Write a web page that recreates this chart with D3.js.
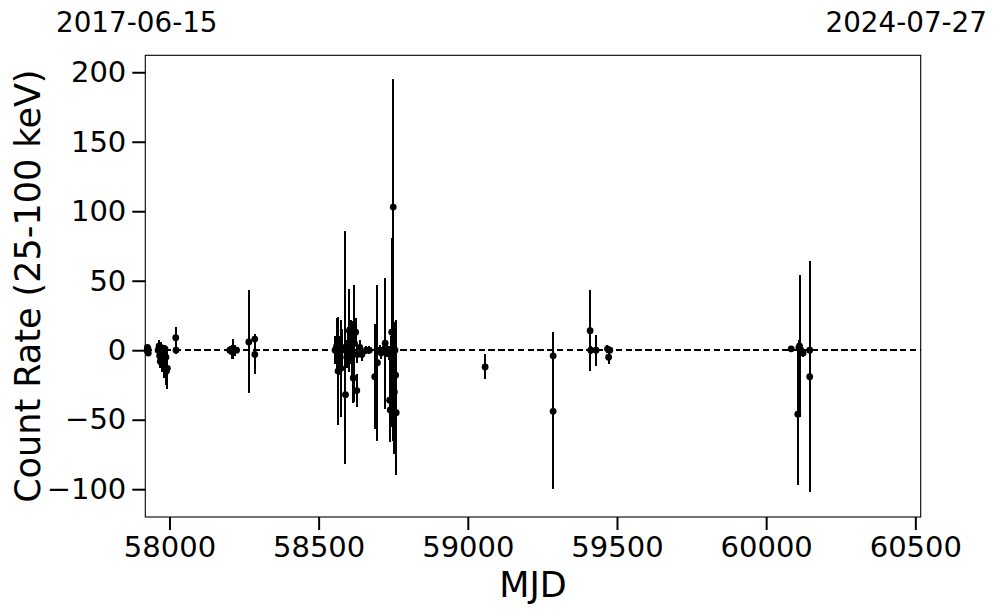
<!DOCTYPE html>
<html><head><meta charset="utf-8">
<script src="https://cdn.jsdelivr.net/npm/d3@7"></script>
<style>body{margin:0;background:#fff}svg{display:block;font-family:"DejaVu Sans",sans-serif}</style>
</head><body>
<svg id="c" width="997" height="613"></svg>
<script>
const mjd  = [57925,57926,57927,57928,57929,57962,57965,57967,57969,57971,57973,57975,57977,57979,57981,57983,57985,57988,57990,57993,58021,58022,58202,58208,58213,58218,58225,58266,58286,58286,
 58555,58560,58565,58568,58570,58575,58578,58588,58590,58594,58598,58603,58606,58610,58612,58616,58620,58624,58628,58630,58638,58645,58660,58670,58688,58697,58705,58710,58716,58723,58728,58735,58738,58740,58742,58745,58748,58750,58752,58754,58756,58758,58760,
 59058,59286,59286,59410,59412,59430,59468,59472,59476,60084,60106,60110,60112,60116,60124,60146,60146];
const rate = [0,2,-1,1,-2,0,3,-4,-8,2,-6,-10,-3,0,-7,-12,1,-5,-15,-13,9,0,0,-1,1,0,0,6,8,-3,
 0,3,-15,-8,2,-13,0,2,-32,-5,5,14,0,10,0,-20,5,13,-29,-3,2,-3,0,0,-19,-9,0,-2,0,5,0,-2,-36,-43,0,13,-20,103,-45,-30,0,-18,-45,
 -12,-4,-44,14,0,0,1,-5,0,1,-46,2,3,0,-2,0,-19];
const err  = [3,2,2,3,2,4,4,5,5,4,6,6,5,4,6,8,3,6,10,15,8,3,3,5,7,4,2,37,4,14,
 10,20,39,10,8,35,15,84,42,8,12,30,10,12,21,18,42,10,12,6,5,5,3,3,38,56,4,4,3,47,5,5,30,23,10,68,45,92,30,40,20,40,45,
 9,17,56,29,3,11,3,5,2,2,51,5,51,4,3,3,83];
const xTicks = [58000,58500,59000,59500,60000,60500];
const yTicks = [-100,-50,0,50,100,150,200];
const dateLeft = "2017-06-15", dateRight = "2024-07-27";
const xLabel = "MJD", yLabel = "Count Rate (25-100 keV)";

const svg = d3.select("#c");
const L=145.3, R=920.7, T=55.3, B=517;
const x = d3.scaleLinear().domain([57919,60518]).range([L,R]);
const y = d3.scaleLinear().domain([-120,212.2]).range([B,T]);
const data = mjd.map((m,i)=>({m, r:rate[i], e:err[i]}));

// zero line
svg.append("line").attr("x1",L).attr("x2",R).attr("y1",y(0)).attr("y2",y(0))
  .attr("stroke","#000").attr("stroke-width",2).attr("stroke-dasharray","6.5,3.3")
  .attr("shape-rendering","crispEdges");

const g = svg.append("g");
g.selectAll("line.e").data(data).enter().append("line")
  .attr("x1",d=>x(d.m)).attr("x2",d=>x(d.m))
  .attr("y1",d=>y(d.r+d.e)).attr("y2",d=>y(d.r-d.e))
  .attr("stroke","#000").attr("stroke-width",2).attr("shape-rendering","crispEdges");
g.selectAll("circle").data(data).enter().append("circle")
  .attr("cx",d=>x(d.m)).attr("cy",d=>y(d.r)).attr("r",3.4).attr("fill","#000");

// frame
svg.append("rect").attr("x",L).attr("y",T).attr("width",R-L).attr("height",B-T)
  .attr("fill","none").attr("stroke","#000").attr("stroke-width",1.1);

const fmt = v => (v<0 ? "\u2212"+Math.abs(v) : ""+v);
const xa = svg.append("g").attr("transform",`translate(0,${B})`)
  .call(d3.axisBottom(x).tickValues(xTicks).tickSize(13).tickPadding(6).tickFormat(d=>""+d));
xa.select(".domain").remove();
xa.selectAll("line").attr("stroke-width",2);
xa.selectAll("text").attr("font-size",29).attr("font-family","DejaVu Sans").attr("fill","#000");

const ya = svg.append("g").attr("transform",`translate(${L},0)`)
  .call(d3.axisLeft(y).tickValues(yTicks).tickSize(13).tickPadding(6).tickFormat(fmt));
ya.select(".domain").remove();
ya.selectAll("line").attr("stroke-width",2);
ya.selectAll("text").attr("font-size",29).attr("font-family","DejaVu Sans").attr("fill","#000");

svg.append("text").attr("x",(L+R)/2).attr("y",597).attr("text-anchor","middle")
  .attr("font-size",35).text(xLabel);
svg.append("text").attr("transform",`translate(40,${(T+B)/2}) rotate(-90)`).attr("text-anchor","middle")
  .attr("font-size",35).text(yLabel);

svg.append("text").attr("x",56).attr("y",32).attr("font-size",27.8).text(dateLeft);
svg.append("text").attr("x",987).attr("y",32).attr("text-anchor","end").attr("font-size",27.8).text(dateRight);
</script>
</body></html>
